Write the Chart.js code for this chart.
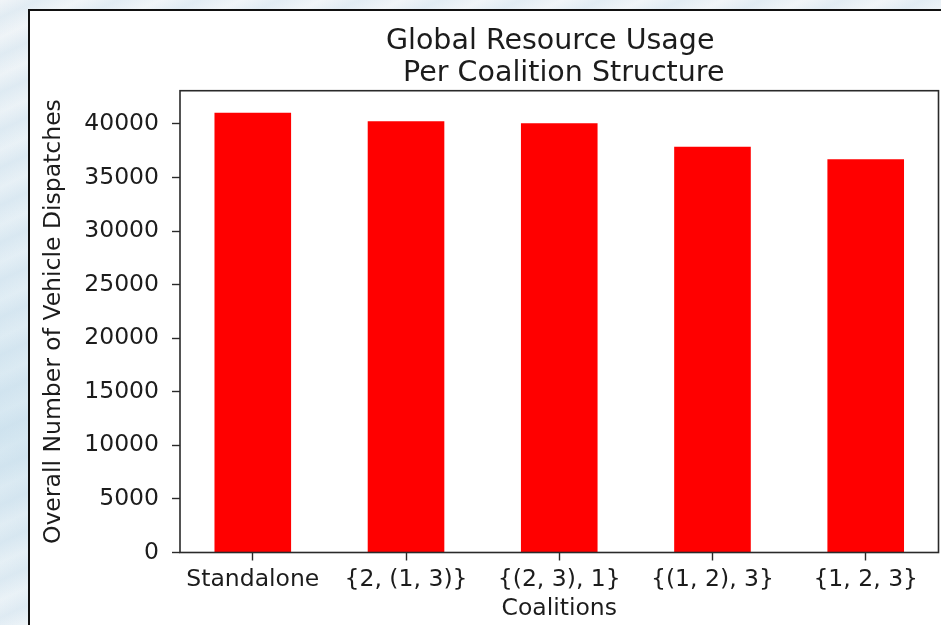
<!DOCTYPE html>
<html>
<head>
<meta charset="utf-8">
<script src="https://cdn.jsdelivr.net/npm/chart.js@4/dist/chart.umd.min.js"></script>
<style>
  html, body { margin: 0; padding: 0; }
  body {
    width: 941px; height: 625px; overflow: hidden; position: relative;
    background:
      repeating-linear-gradient(155deg, rgba(190,215,232,0.0) 0px, rgba(190,215,232,0.30) 16px, rgba(255,255,255,0.0) 34px),
      linear-gradient(180deg, #f1f5f8 0%, #e2eef5 45%, #d5e7f1 70%, #eef4f8 100%);
  }
  #fig {
    position: absolute; left: 28px; top: 9px; width: 960px; height: 700px;
    background: #ffffff; border-left: 2px solid #111; border-top: 2px solid #111;
  }
  #chart { position: absolute; left: 0; top: 0; }
</style>
</head>
<body>
<div id="fig"></div>
<canvas id="chart" width="941" height="625"></canvas>
<script>
// Coalition structures and the total number of vehicle dispatches for each
const categories = ['Standalone', '{2, (1, 3)}', '{(2, 3), 1}', '{(1, 2), 3}', '{1, 2, 3}'];
const dispatches = [41050, 40250, 40070, 37880, 36700];
const yTicks = [0, 5000, 10000, 15000, 20000, 25000, 30000, 35000, 40000];
const titleLines = ['Global Resource Usage  ', ' Per Coalition Structure'];
const xTitle = 'Coalitions';
const yTitle = 'Overall Number of Vehicle Dispatches';

const FONT = 'DejaVu Sans';
const INK = '#1c1c1c';
const barWidth = 0.5;
const xMargin = 0.05 * ((categories.length - 1) + barWidth);
const yMax = Math.max(...dispatches) * 1.05;

// Frame of the axes: all four spines
const spines = {
  id: 'spines',
  afterDraw(chart) {
    const { ctx, chartArea: a } = chart;
    ctx.save();
    ctx.strokeStyle = '#2a2a2a';
    ctx.lineWidth = 1.6;
    ctx.strokeRect(a.left, a.top, a.right - a.left, a.bottom - a.top);
    ctx.restore();
  }
};

new Chart(document.getElementById('chart'), {
  type: 'bar',
  data: {
    datasets: [{
      data: dispatches.map((v, i) => ({ x: i, y: v })),
      backgroundColor: '#ff0000',
      borderWidth: 0,
      categoryPercentage: 1,
      barPercentage: barWidth
    }]
  },
  options: {
    responsive: false,
    animation: false,
    layout: { padding: { left: 0, top: 0, right: 2.5, bottom: 0 } },
    plugins: {
      legend: { display: false },
      tooltip: { enabled: false },
      title: {
        display: true,
        text: titleLines,
        fullSize: false,
        color: INK,
        font: { family: FONT, size: 28.5, weight: 'normal', lineHeight: 1.123 },
        padding: { top: 25.5, bottom: 1.2 }
      }
    },
    scales: {
      x: {
        type: 'linear',
        offset: false,
        min: -0.25 - xMargin,
        max: (categories.length - 1) + 0.25 + xMargin,
        afterBuildTicks(scale) { scale.ticks = categories.map((_, i) => ({ value: i })); },
        afterFit(scale) { scale.height = 72.5; },
        ticks: {
          color: INK,
          font: { family: FONT, size: 23.5 },
          padding: 5,
          maxRotation: 0,
          autoSkip: false,
          callback: (v) => categories[v]
        },
        grid: {
          display: true, offset: false, drawOnChartArea: false, drawTicks: true,
          tickLength: 8, tickColor: '#2a2a2a', tickWidth: 1.4
        },
        border: { display: false },
        title: {
          display: true, text: xTitle, color: INK,
          font: { family: FONT, size: 23.5, lineHeight: 1.2 },
          padding: { top: 0, bottom: 2 }
        }
      },
      y: {
        min: 0,
        max: yMax,
        afterBuildTicks(scale) { scale.ticks = yTicks.map(v => ({ value: v })); },
        afterFit(scale) { scale.width = 180; },
        ticks: {
          color: INK,
          font: { family: FONT, size: 23.5 },
          padding: 13,
          callback: (v) => String(v)
        },
        grid: {
          display: true, drawOnChartArea: false, drawTicks: true,
          tickLength: 8, tickColor: '#2a2a2a', tickWidth: 1.4
        },
        border: { display: false },
        title: {
          display: true, text: yTitle, color: INK,
          font: { family: FONT, size: 23.5, lineHeight: 1.2 },
          padding: { top: 40, bottom: 0 }
        }
      }
    }
  },
  plugins: [spines]
});
</script>
</body>
</html>
